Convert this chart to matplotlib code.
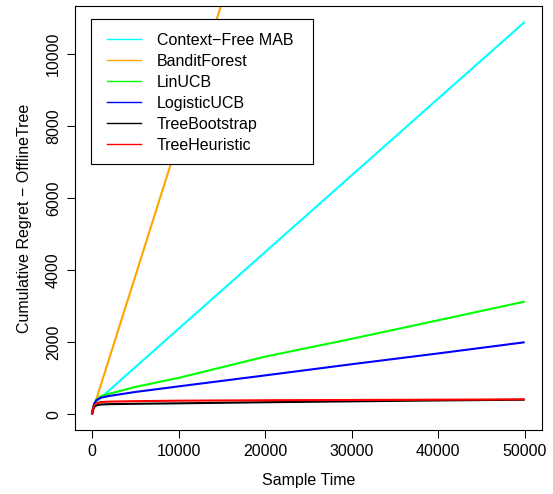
import matplotlib
matplotlib.use("Agg")
import matplotlib.pyplot as plt
from matplotlib.lines import Line2D
from matplotlib.patches import Rectangle
import numpy as np

plt.rcParams['font.family'] = ['Liberation Sans', 'DejaVu Sans']

# ---- data ----
sample_time = [0, 100, 250, 500, 1000, 2000, 5000, 10000, 20000, 30000, 40000, 50000]
context_free = [0, 150, 270, 350, 456, 669, 1308, 2373, 4503, 6633, 8763, 10890]
bandit_forest = [0, 100, 220, 420, 800, 1560, 3830, 7630, 15200, 22800, 30400, 38000]
lin_ucb = [0, 150, 290, 400, 500, 570, 760, 1010, 1600, 2095, 2610, 3130]
logistic_ucb = [0, 150, 290, 390, 460, 510, 620, 775, 1080, 1390, 1690, 2000]
tree_bootstrap = [0, 110, 200, 250, 272, 282, 292, 305, 335, 360, 385, 405]
tree_heuristic = [0, 130, 240, 300, 340, 352, 365, 378, 390, 398, 406, 415]

series_names = ["Context\u2212Free MAB", "BanditForest", "LinUCB", "LogisticUCB",
                "TreeBootstrap", "TreeHeuristic"]
series_values = [context_free, bandit_forest, lin_ucb, logistic_ucb,
                 tree_bootstrap, tree_heuristic]
series_colors = ["#00FFFF", "#FFA500", "#00FF00", "#0000FF", "#000000", "#FF0000"]

x_ticks = [0, 10000, 20000, 30000, 40000, 50000]
y_ticks = [0, 2000, 4000, 6000, 8000, 10000]

W, H = 553, 494
fig = plt.figure(figsize=(W / 100, H / 100), dpi=100)
ax = fig.add_axes([74.7 / W, 1 - 430 / H, (542 - 74.7) / W, (430 - 6.3) / H])

fs = 11.5
lw = 1.5
for vals, col in zip(series_values, series_colors):
    ax.plot(sample_time, vals, color=col, lw=lw, solid_capstyle='butt')

def rng(v):
    lo, hi = min(v), max(v)
    r = hi - lo
    return lo - 0.04 * r, hi + 0.04 * r

ax.set_xlim(*rng(sample_time))
ax.set_ylim(*rng(context_free))

ax.set_xticks(x_ticks)
ax.set_xticklabels([str(t) for t in x_ticks], fontsize=fs)
ax.set_yticks(y_ticks)
ax.set_yticklabels([str(t) for t in y_ticks], fontsize=fs, rotation=90, va='center')
ax.tick_params(direction='out', length=5.8, width=0.75, pad=4, colors='black')
for s in ax.spines.values():
    s.set_linewidth(0.8)

ax.set_xlabel("Sample Time", fontsize=fs, labelpad=10)
ax.set_ylabel("Cumulative Regret \u2212 OfflineTree", fontsize=fs, labelpad=10.5)

# ---- legend (drawn in figure pixels) ----
def fx(px):
    return px / W
def fy(py):
    return 1 - py / H

box = Rectangle((fx(91.3), fy(164.5)), fx(313) - fx(91.3), fy(18.7) - fy(164.5),
                transform=fig.transFigure, fill=True, facecolor='white',
                edgecolor='black', lw=0.8, zorder=5)
fig.patches.append(box)
for i, (name, col) in enumerate(zip(series_names, series_colors)):
    yc = 39 + 21 * i
    fig.lines.append(Line2D([fx(107), fx(141)], [fy(yc), fy(yc)], color=col, lw=1.0,
                            transform=fig.transFigure, zorder=6))
    fig.text(fx(157), fy(yc), name, fontsize=fs, va='center_baseline', ha='left', zorder=6)

fig.savefig("out.png", dpi=100, facecolor='white')
